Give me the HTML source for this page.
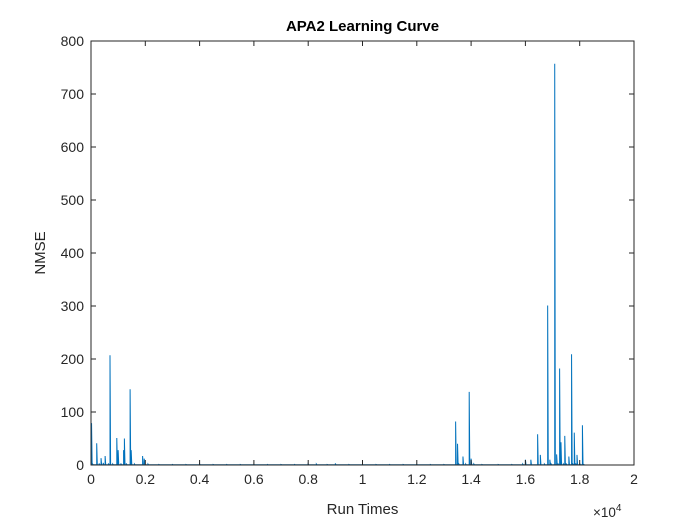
<!DOCTYPE html>
<html><head><meta charset="utf-8"><style>
body{margin:0;background:#fff}
svg{display:block;font-family:"Liberation Sans",Arial,sans-serif}
</style></head><body>
<svg id="chart" width="700" height="523" viewBox="0 0 700 523">
<rect x="0" y="0" width="700" height="523" fill="#fff"/>
<g id="plot"></g>
</svg>
<script>
const xTicks=[0,2000,4000,6000,8000,10000,12000,14000,16000,18000,20000];
const xTickLabels=["0","0.2","0.4","0.6","0.8","1","1.2","1.4","1.6","1.8","2"];
const yTicks=[0,100,200,300,400,500,600,700,800];
const yTickLabels=["0","100","200","300","400","500","600","700","800"];
const runTimes=[20,60,210,300,370,450,520,640,700,800,950,1000,1100,1200,1230,1300,1440,1480,1600,1900,1960,2100,2500,3000,3500,4000,4500,5000,5500,6000,6500,7000,7500,8000,8300,8700,9000,9500,10000,10500,11000,11500,12000,12500,13000,13430,13500,13550,13700,13800,13930,14000,14100,14400,15000,15500,15900,16000,16200,16450,16550,16700,16820,16900,16950,17080,17150,17200,17260,17310,17400,17450,17500,17600,17700,17750,17800,17850,17900,18000,18100,18150];
const nmse=[79,2,41,3,13,4,17,3,207,2,51,28,3,28,50,3,143,28,2,17,12,2,1,1,1,2,1,1,1,1,1,1,1,2,2,1,3,1,1,1,1,1,1,1,1,82,40,2,16,2,138,12,2,1,1,1,2,10,10,58,19,2,301,10,2,757,20,3,182,43,2,55,3,16,209,2,61,3,19,3,75,1];
const NS="http://www.w3.org/2000/svg";
const L=91,R=634,T=41,B=465;
const xs=v=>L+(v-0)/(20000-0)*(R-L);
const ys=v=>B-(v-0)/(800-0)*(B-T);
const g=document.getElementById('plot');
function mk(tag,attrs,parent){const e=document.createElementNS(NS,tag);for(const k in attrs)e.setAttribute(k,attrs[k]);(parent||g).appendChild(e);return e;}
let d="";
for(let i=0;i<runTimes.length;i++){
  const x=xs(runTimes[i]);
  d+=(i===0?"M":"L")+x.toFixed(2)+","+ys(0.5).toFixed(2)+"L"+x.toFixed(2)+","+ys(nmse[i]).toFixed(2)+"L"+(x+0.6).toFixed(2)+","+ys(0.5).toFixed(2);
}
const line=mk('path',{d:d,fill:'none',stroke:'#0072BD','stroke-width':'1','stroke-linejoin':'miter'});


const box=mk('rect',{x:L,y:T,width:R-L,height:B-T,fill:'none',stroke:'#262626','stroke-width':'1'});


xTicks.forEach((v,i)=>{
  const x=xs(v);
  const t1=mk('line',{x1:x,y1:B,x2:x,y2:B-5,stroke:'#262626'});
  
  
  const t2=mk('line',{x1:x,y1:T,x2:x,y2:T+5,stroke:'#262626'});
  
  
  const tx=mk('text',{x:x,y:B+19,'text-anchor':'middle','font-size':'14',fill:'#262626'});
  tx.textContent=xTickLabels[i];
  
  
});
yTicks.forEach((v,i)=>{
  const y=ys(v);
  const t1=mk('line',{x1:L,y1:y,x2:L+5,y2:y,stroke:'#262626'});
  
  
  const t2=mk('line',{x1:R,y1:y,x2:R-5,y2:y,stroke:'#262626'});
  
  
  const tx=mk('text',{x:L-7,y:y+5,'text-anchor':'end','font-size':'14',fill:'#262626'});
  tx.textContent=yTickLabels[i];
  
  
});
const title=mk('text',{x:(L+R)/2,y:31,'text-anchor':'middle','font-size':'15','font-weight':'bold',fill:'#000'});
title.textContent='APA2 Learning Curve';


const xl=mk('text',{x:(L+R)/2,y:514,'text-anchor':'middle','font-size':'15',fill:'#262626'});
xl.textContent='Run Times';


const yl=mk('text',{x:0,y:0,'text-anchor':'middle','font-size':'15',fill:'#262626',transform:'translate(45,253) rotate(-90)'});
yl.textContent='NMSE';


const ex=mk('text',{x:593,y:517,'font-size':'13.5',fill:'#262626'});
ex.innerHTML='×10<tspan dy="-6" font-size="10">4</tspan>';


</script>
</body></html>
